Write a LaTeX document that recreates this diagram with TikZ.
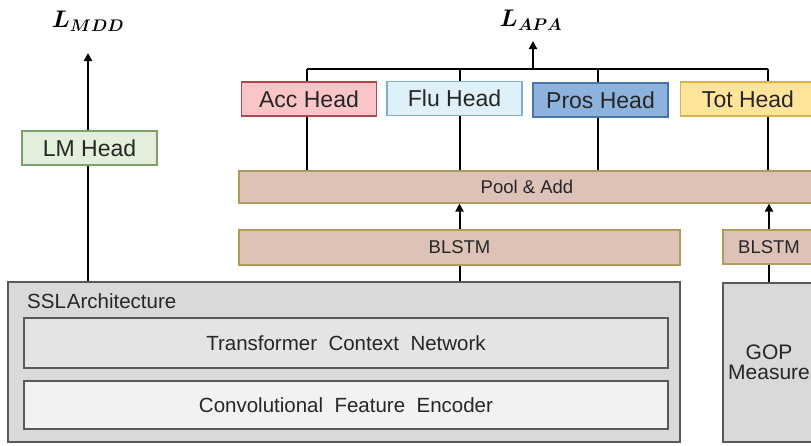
\RequirePackage{fix-cm}
\documentclass[tikz,border=0pt]{standalone}
\usepackage{amsmath,bm}
\usepackage{fontspec}
\setmainfont{Liberation Sans}
\usetikzlibrary{arrows.meta,backgrounds}
\definecolor{txt}{HTML}{262626}
\definecolor{lmfill}{HTML}{E2EFDA}
\definecolor{lmline}{HTML}{7FA06A}
\definecolor{accfill}{HTML}{F9C5C6}
\definecolor{accline}{HTML}{B0484B}
\definecolor{flufill}{HTML}{DFF0F8}
\definecolor{fluline}{HTML}{7FAED0}
\definecolor{prosfill}{HTML}{8DB3DD}
\definecolor{prosline}{HTML}{4A76A8}
\definecolor{totfill}{HTML}{FFE49A}
\definecolor{totline}{HTML}{D4B24C}
\definecolor{tanfill}{HTML}{DCC2B7}
\definecolor{tanline}{HTML}{B09A5C}
\definecolor{sslfill}{HTML}{D9D9D9}
\definecolor{trfill}{HTML}{E4E4E4}
\definecolor{convfill}{HTML}{F2F2F2}
\definecolor{grayline}{HTML}{595959}
\tikzset{
  box/.style={draw, rectangle, inner sep=0pt, line width=1.2pt, text=txt},
  headbox/.style={box, minimum width=135pt, minimum height=34pt, font=\fontsize{23}{27}\selectfont},
  tanbox/.style={box, fill=tanfill, draw=tanline, font=\fontsize{18.5}{22}\selectfont},
  graybox/.style={box, draw=grayline, font=\fontsize{20.5}{20}\selectfont},
  conn/.style={line width=2pt, black},
  arr/.style={conn, -{Triangle[length=8pt,width=8pt]}},
  losslbl/.style={inner sep=0pt, font=\fontsize{24}{28}\selectfont\boldmath},
}
\begin{document}
\begin{tikzpicture}[x=1pt,y=-1pt]
\useasboundingbox (0,0) rectangle (811,445);
\clip (0,0) rectangle (811,445);

% loss labels
\node[losslbl] (lmdd) at (88,21) {$L_{MDD}$};
\node[losslbl] (lapa) at (531,20) {$L_{APA}$};

% heads
\node[headbox, fill=lmfill, draw=lmline] (lm) at (89.5,148) {LM Head};
\node[headbox, fill=accfill, draw=accline] (acc) at (309,99) {Acc Head};
\node[headbox, fill=flufill, draw=fluline] (flu) at (454.5,98.5) {Flu Head};
\node[headbox, fill=prosfill, draw=prosline] (pros) at (600.5,100) {Pros Head};
\node[headbox, fill=totfill, draw=totline] (tot) at (748,99) {Tot Head};

% pool and BLSTMs
\node[tanbox, minimum width=576pt, minimum height=32pt] (pool) at (527,187) {Pool \& Add};
\node[tanbox, minimum width=441pt, minimum height=35pt] (bl1) at (459.5,247.5) {BLSTM};
\node[tanbox, minimum width=92pt, minimum height=34pt] (bl2) at (769,247) {BLSTM};

% SSL architecture
\node[graybox, fill=sslfill, minimum width=672pt, minimum height=160pt] (ssl) at (344,362) {};
\node[anchor=west, inner sep=0pt, text=txt, font=\fontsize{20.5}{24}\selectfont] (ssllbl) at (27,301) {SSL\kern1pt Architecture};
\node[graybox, fill=trfill, minimum width=644pt, minimum height=50pt] (tr) at (346,343) {Transformer\ \ Context\ \ Network};
\node[graybox, fill=convfill, minimum width=644pt, minimum height=48pt] (conv) at (346,405) {Convolutional\ \ Feature\ \ Encoder};

% GOP
\node[graybox, fill=sslfill, minimum width=92pt, minimum height=159pt, align=center, font=\fontsize{21}{20}\selectfont] (gop) at (769,362.5) {GOP\\Measure};

% connector coordinates
\coordinate (mddtip) at (88,53);
\coordinate (apatip) at (533,41);
\coordinate (apabase) at (533,69);
\coordinate (va) at (307,69);
\coordinate (vf) at (460,69);
\coordinate (vp) at (598,69);
\coordinate (vt) at (768,69);

\begin{pgfonlayer}{background}
  \foreach \c in {va,vf,vp,vt} {
    \draw[conn] (\c) -- (\c |- pool.north);
  }
\end{pgfonlayer}

\draw[conn] (va) -- (vt);
\draw[arr] (apabase) -- (apatip);

\draw[arr] (lm.north -| mddtip) -- (mddtip);
\draw[conn] (ssl.north -| mddtip) -- (lm.south -| mddtip);

\draw[arr] (bl1.north) -- (bl1.north |- pool.south);
\draw[arr] (bl2.north) -- (bl2.north |- pool.south);
\draw[conn] (ssl.north -| bl1.south) -- (bl1.south);
\draw[conn] (gop.north) -- (bl2.south);
\end{tikzpicture}
\end{document}
